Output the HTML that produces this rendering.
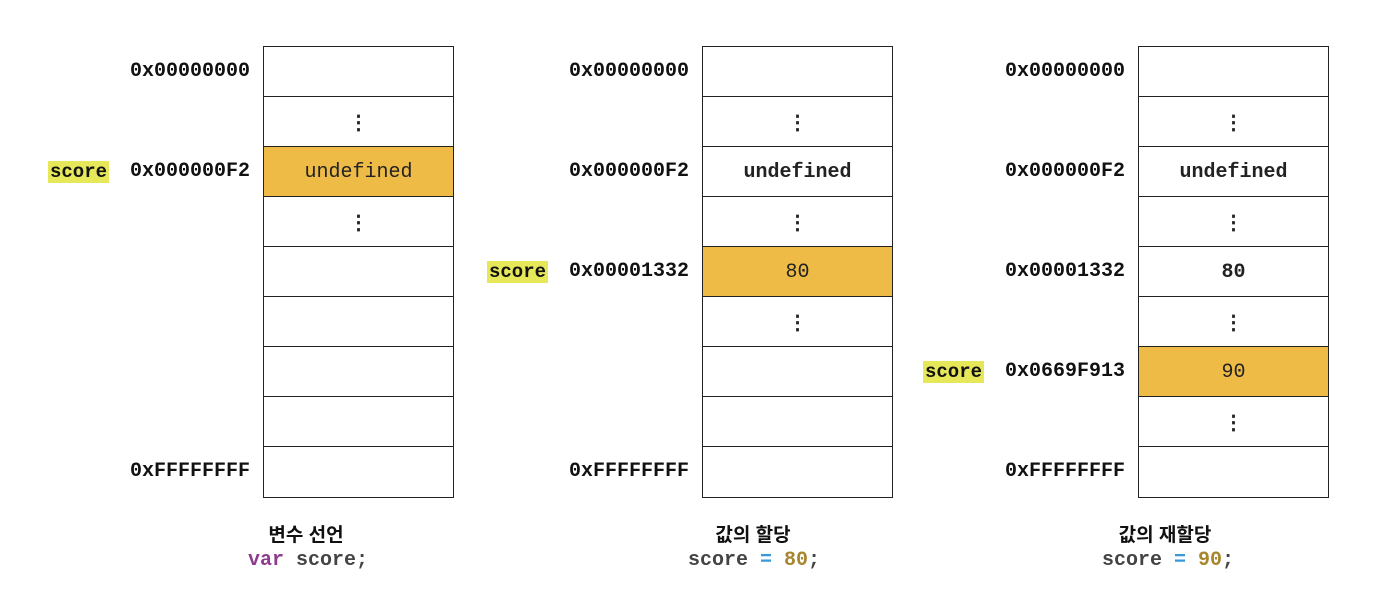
<!DOCTYPE html>
<html><head><meta charset="utf-8">
<style>
body{margin:0;width:1378px;height:596px;background:#fff;position:relative;overflow:hidden;font-family:"Liberation Mono",monospace;}
.cell{position:absolute;box-sizing:border-box;border:1.5px solid #222;background:#fff;display:flex;align-items:center;justify-content:center;font-size:20px;color:#222;padding-top:2px;}
.addr{position:absolute;font-size:20px;font-weight:bold;color:#111;text-align:right;width:170px;line-height:20px;}
.tag{position:absolute;background:#e6e85a;font-size:19px;font-weight:bold;color:#111;width:61px;height:22px;line-height:23px;text-align:center;}
.title{position:absolute;font-family:"Liberation Sans","Noto Sans CJK KR",sans-serif;font-weight:bold;font-size:19px;color:#111;text-align:center;width:300px;}
.code{position:absolute;font-weight:bold;font-size:20px;color:#444;text-align:center;width:300px;}
</style></head><body>
<script>
const panels=[
 {x:263,addrRight:250,cells:["","⋮","undefined","⋮","","","","",""],addrs:{0:"0x00000000",2:"0x000000F2",8:"0xFFFFFFFF"},hl:2,bold:false,title:"변수 선언",code:'<span style="color:#8e3b8e">var</span> score;',tc:306,cc:308},
 {x:702,addrRight:689,cells:["","⋮","undefined","⋮","80","⋮","","",""],addrs:{0:"0x00000000",2:"0x000000F2",4:"0x00001332",8:"0xFFFFFFFF"},hl:4,bold:true,title:"값의 할당",code:'score <span style="color:#3a9ad9">=</span> <span style="color:#a8862e">80</span>;',tc:753,cc:754},
 {x:1138,addrRight:1125,cells:["","⋮","undefined","⋮","80","⋮","90","⋮",""],addrs:{0:"0x00000000",2:"0x000000F2",4:"0x00001332",6:"0x0669F913",8:"0xFFFFFFFF"},hl:6,bold:true,title:"값의 재할당",code:'score <span style="color:#3a9ad9">=</span> <span style="color:#a8862e">90</span>;',tc:1165,cc:1168}
];
const top0=46,rowH=50,w=191;
panels.forEach((p,pi)=>{
 p.cells.forEach((t,i)=>{
  const d=document.createElement('div');
  d.className='cell';
  
  
  d.style.cssText=`left:${p.x}px;top:${top0+i*rowH}px;width:${w}px;height:${rowH+1.5}px;`;
  if(i===p.hl){d.style.background='#edbb46';}
  else if(p.bold||t==="⋮"){d.style.fontWeight='bold';}
  d.textContent=t;
  document.body.appendChild(d);
 });
 Object.keys(p.addrs).forEach(k=>{
  const a=document.createElement('div');
  a.className='addr';
  
  
  a.style.left=(p.addrRight-170)+'px';
  a.style.top=(top0+k*rowH+16)+'px';
  a.textContent=p.addrs[k];
  document.body.appendChild(a);
 });
 const tg=document.createElement('div');
 tg.className='tag';
 
 
 tg.style.left=(p.addrRight-202)+'px';
 tg.style.top=(top0+p.hl*rowH+15)+'px';
 tg.textContent='score';
 document.body.appendChild(tg);
 const ti=document.createElement('div');
 ti.className='title';
 
 
 ti.style.left=(p.tc-150)+'px';
 ti.style.top='520px';
 ti.textContent=p.title;
 document.body.appendChild(ti);
 const c=document.createElement('div');
 c.className='code';
 
 
 c.style.left=(p.cc-150)+'px';
 c.style.top='549px';
 c.innerHTML=p.code;
 document.body.appendChild(c);
});
</script>
</body></html>
